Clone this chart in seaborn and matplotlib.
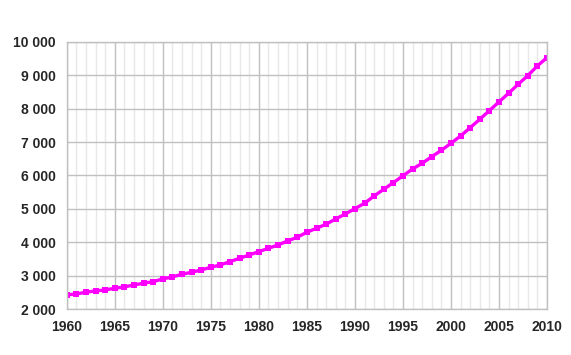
import pandas as pd
import matplotlib.pyplot as plt
import seaborn as sns
from matplotlib.ticker import FuncFormatter, MultipleLocator

years = list(range(1960, 2011))
values = [2428, 2457, 2508, 2547, 2577, 2627, 2667, 2727, 2777, 2826,
          2906, 2966, 3046, 3106, 3175, 3255, 3325, 3424, 3524, 3623,
          3722, 3823, 3922, 4042, 4152, 4302, 4421, 4541, 4700, 4849,
          5008, 5168, 5387, 5587, 5786, 5990, 6194, 6365, 6562, 6753,
          6963, 7181, 7430, 7680, 7940, 8200, 8459, 8728, 8987, 9277,
          9526]

df = pd.DataFrame({"year": years, "value": values})

sns.set_style("white")
plt.rcParams['font.family'] = ['Liberation Sans', 'DejaVu Sans']

fig = plt.figure(figsize=(5.71, 3.55), dpi=100)
ax = fig.add_axes([0.117, 0.129, 0.841, 0.7535])

sns.lineplot(data=df, x="year", y="value", ax=ax, color="#ff00ff",
             linewidth=2.4, marker="s", markersize=5, markeredgewidth=0)

ax.set_xlim(1960, 2010)
ax.set_ylim(2000, 10000)
ax.xaxis.set_major_locator(MultipleLocator(5))
ax.xaxis.set_minor_locator(MultipleLocator(1))
ax.yaxis.set_major_locator(MultipleLocator(1000))
ax.yaxis.set_major_formatter(FuncFormatter(lambda v, p: f"{int(v):,}".replace(",", " ")))

ax.grid(which="major", color="#c0c0c0", linewidth=1)
ax.grid(which="minor", axis="x", color="#e8e8e8", linewidth=1)
ax.set_axisbelow(True)

for s in ax.spines.values():
    s.set_color("#c0c0c0")
    s.set_linewidth(1)

ax.tick_params(which="major", direction="out", length=4, color="#c0c0c0",
               labelsize=10, pad=4)
ax.tick_params(which="minor", length=0)
for lab in ax.get_xticklabels() + ax.get_yticklabels():
    lab.set_fontweight("bold")

ax.set_xlabel("")
ax.set_ylabel("")

fig.savefig("out.png", dpi=100)
